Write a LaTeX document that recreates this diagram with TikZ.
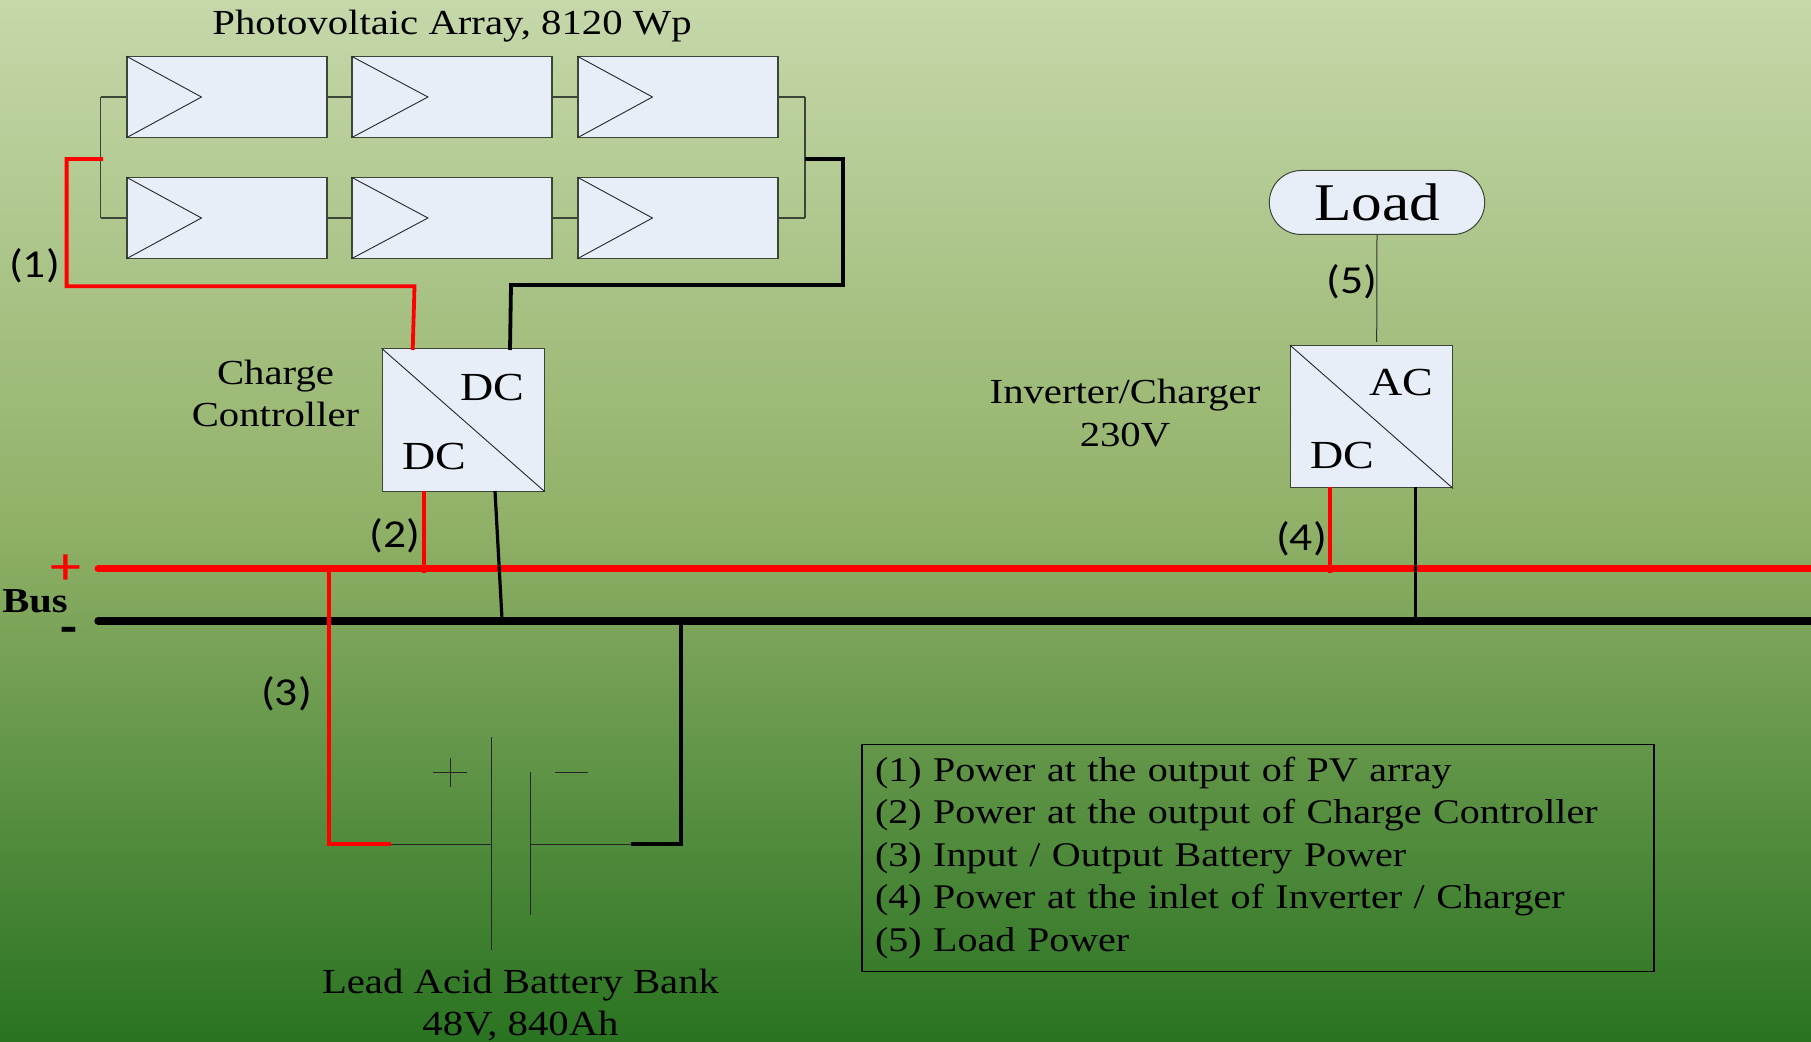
\documentclass[tikz,border=0pt]{standalone}
\usepackage{fontspec}
\setmainfont[FakeStretch=1.157]{Liberation Serif}
\newfontfamily\lblfont[FakeStretch=1.15]{Carlito}
\usetikzlibrary{calc,shapes.misc}
\definecolor{bgA}{RGB}{198,216,170}
\definecolor{bgC}{RGB}{145,177,104}
\definecolor{bgD}{RGB}{41,115,33}
\pgfdeclareverticalshading{bgshade}{100bp}{
  color(0bp)=(bgD); color(25bp)=(bgD); color(50bp)=(bgC); color(75bp)=(bgA); color(100bp)=(bgA)}
\definecolor{boxfill}{RGB}{232,238,248}
\definecolor{edge}{RGB}{60,70,55}
\definecolor{busred}{RGB}{255,0,0}
\tikzset{
  x=0.5pt,y=-0.5pt,
  thinwire/.style={draw=edge,line width=0.55pt},
  fineline/.style={draw=black!85,line width=0.45pt},
  panel/.style={draw=edge,fill=boxfill,line width=0.55pt,minimum width=100pt,minimum height=40.2pt,inner sep=0pt},
  conv/.style={draw=edge,fill=boxfill,line width=0.55pt,minimum width=81pt,inner sep=0pt},
  redwire/.style={draw=busred,line width=1.9pt,line join=miter},
  blackwire/.style={draw=black,line width=1.9pt,line join=miter},
  redbus/.style={draw=busred,line width=3.5pt,line cap=round},
  blackbus/.style={draw=black,line width=3.6pt,line cap=round},
  txt/.style={inner sep=0pt,font=\fontsize{17.6}{21.1}\selectfont,align=center,text=black},
  dclbl/.style={inner sep=0pt,font=\fontsize{19.9}{22}\selectfont,text=black},
  numlbl/.style={inner sep=0pt,font=\lblfont\fontsize{19.8}{22}\selectfont,text=black},
}
\begin{document}
\begin{tikzpicture}
\useasboundingbox (0,0) rectangle (1811,1042);
\clip (0,0) rectangle (1811,1042);
\shade[shading=bgshade] (0,0) rectangle (1811,1042);

% coordinates
\coordinate (lt) at (100.5,97);
\coordinate (lb) at (100.5,218);
\coordinate (rt) at (805,97);
\coordinate (rb) at (805,218);
\coordinate (lj) at (103,159);
\coordinate (rj) at (805,159);
\coordinate (r1) at (66.6,159);
\coordinate (r2) at (66.6,286.3);
\coordinate (r3) at (414.5,286.3);
\coordinate (k1) at (843,159);
\coordinate (k2) at (843,285);
\coordinate (k3) at (511,285);
\coordinate (busRa) at (98,569);
\coordinate (busRb) at (1820,569);
\coordinate (busKa) at (98,621);
\coordinate (busKb) at (1820,621);

% wires behind boxes
\draw[thinwire] (lt) -- (lb);
\draw[thinwire] (rt) -- (rb);

% panels
\node[panel] (p11) at (227,97) {};
\node[panel] (p12) at (452,97) {};
\node[panel] (p13) at (678,97) {};
\node[panel] (p21) at (227,218) {};
\node[panel] (p22) at (452,218) {};
\node[panel] (p23) at (678,218) {};
\foreach \p/\a in {p11/75,p12/76.5,p13/75,p21/75,p22/76.5,p23/75}{
  \draw[fineline] (\p.north west) -- ($(\p.west)+(\a,0)$) -- (\p.south west);
}
\draw[thinwire] (lt) -- (p11.west);
\draw[thinwire] (p11.east) -- (p12.west);
\draw[thinwire] (p12.east) -- (p13.west);
\draw[thinwire] (p13.east) -- (rt);
\draw[thinwire] (lb) -- (p21.west);
\draw[thinwire] (p21.east) -- (p22.west);
\draw[thinwire] (p22.east) -- (p23.west);
\draw[thinwire] (p23.east) -- (rb);

% converters
\node[conv,minimum height=71.1pt] (cc) at (463.2,420) {};
\draw[fineline] (cc.north west) -- (cc.south east);
\node[conv,minimum height=71.1pt] (inv) at (1371.5,416.8) {};
\draw[fineline] (inv.north west) -- (inv.south east);
\node[dclbl] (ccdc1) at (492.5,387.5) {DC};
\node[dclbl] (ccdc2) at (434.5,457) {DC};
\node[dclbl] (invac) at (1401.4,383) {AC};
\node[dclbl] (invdc) at (1342.5,455.5) {DC};

% load
\node[draw=edge,fill=boxfill,line width=0.5pt,rounded rectangle,minimum width=107.7pt,minimum height=32pt,inner sep=0pt,font=\fontsize{26.5}{30}\selectfont] (load) at (1377,202.5) {Load};

% battery
\coordinate (pa) at (491,737);
\coordinate (pb) at (491,950);
\coordinate (na) at (530.5,772);
\coordinate (nb) at (530.5,915);
\coordinate (pm) at (491,844);
\coordinate (nm) at (530.5,844);
\coordinate (br1) at (329,844);
\coordinate (br2) at (391,844);
\coordinate (bk1) at (681,844);
\coordinate (bk2) at (631,844);
\coordinate (plusL) at (433,772);
\coordinate (plusR) at (467,772);
\coordinate (plusT) at (450,758);
\coordinate (plusB) at (450,787);
\coordinate (minusL) at (555,772);
\coordinate (minusR) at (588,772);
\draw[fineline] (pa) -- (pb);
\draw[fineline] (na) -- (nb);
\draw[fineline] (plusL) -- (plusR);
\draw[fineline] (plusT) -- (plusB);
\draw[fineline] (minusL) -- (minusR);
\draw[fineline] (br2) -- (pm);
\draw[fineline] (nm) -- (bk2);

% buses
\draw[redbus] (busRa) -- (busRb);
\draw[blackbus] (busKa) -- (busKb);

% power connectors
\coordinate (ct1) at (412.7,350);
\coordinate (ct2) at (510,350);
\coordinate (cb1) at (424,491);
\coordinate (cb2) at (495,491);
\coordinate (ib1) at (1330,487);
\coordinate (ib2) at (1415.7,487);
\coordinate (c1) at (424,573);
\coordinate (c2) at (502,619);
\coordinate (c3) at (329,569);
\coordinate (c4) at (681,621);
\coordinate (c5) at (1330,573);
\coordinate (c6) at (1415.7,624);
\coordinate (lt2) at (1376.7,342);
\draw[redwire] (lj) -- (r1) -- (r2) -- (r3) -- (ct1);
\draw[blackwire] (rj) -- (k1) -- (k2) -- (k3) -- (ct2);
\draw[draw=busred,line width=1.7pt] (cb1) -- (c1);
\draw[draw=black,line width=1.6pt] (cb2) -- (c2);
\draw[draw=busred,line width=1.7pt,line join=miter] (c3) -- (br1) -- (br2);
\draw[draw=black,line width=1.6pt,line join=miter] (c4) -- (bk1) -- (bk2);
\draw[draw=busred,line width=1.7pt] (ib1) -- (c5);
\draw[draw=black,line width=1.6pt] (ib2) -- (c6);
\draw[draw=black!80,line width=0.5pt] (load.south) -- (lt2);

% labels
\node[txt] (title) at (452,26) {Photovoltaic Array, 8120 Wp};
\node[txt] (cclbl) at (275.5,393.5) {Charge\\Controller};
\node[txt] (invlbl) at (1125,413) {Inverter/Charger\\230V};
\node[txt] (batlbl) at (520.5,1005) {Lead Acid Battery Bank\\48V, 840Ah};
\node[txt,font=\bfseries\fontsize{17.5}{20}\selectfont] (buslbl) at (35,601) {Bus};
\node[inner sep=0pt,text=busred,font=\lblfont\fontsize{27}{28}\selectfont] (plus) at (66,570) {+};
\node[inner sep=0pt,text=black,font=\lblfont\bfseries\fontsize{24}{26}\selectfont] (minus) at (69,635) {-};
\node[numlbl] (n1) at (34.5,266) {(1)};
\node[numlbl] (n2) at (395,536) {(2)};
\node[numlbl] (n3) at (286.5,694) {(3)};
\node[numlbl] (n4) at (1301.5,539) {(4)};
\node[numlbl] (n5) at (1352,282) {(5)};

% legend
\node[draw=black,line width=0.6pt,minimum width=396pt,minimum height=113.6pt,inner sep=0pt,text width=383pt,align=left,font=\fontsize{17.3}{21.3}\selectfont] (legend) at (1258,857.8) {%
(1) Power at the output of PV array\\
(2) Power at the output of Charge Controller\\
(3) Input / Output Battery Power\\
(4) Power at the inlet of Inverter / Charger\\
(5) Load Power};
\end{tikzpicture}
\end{document}
